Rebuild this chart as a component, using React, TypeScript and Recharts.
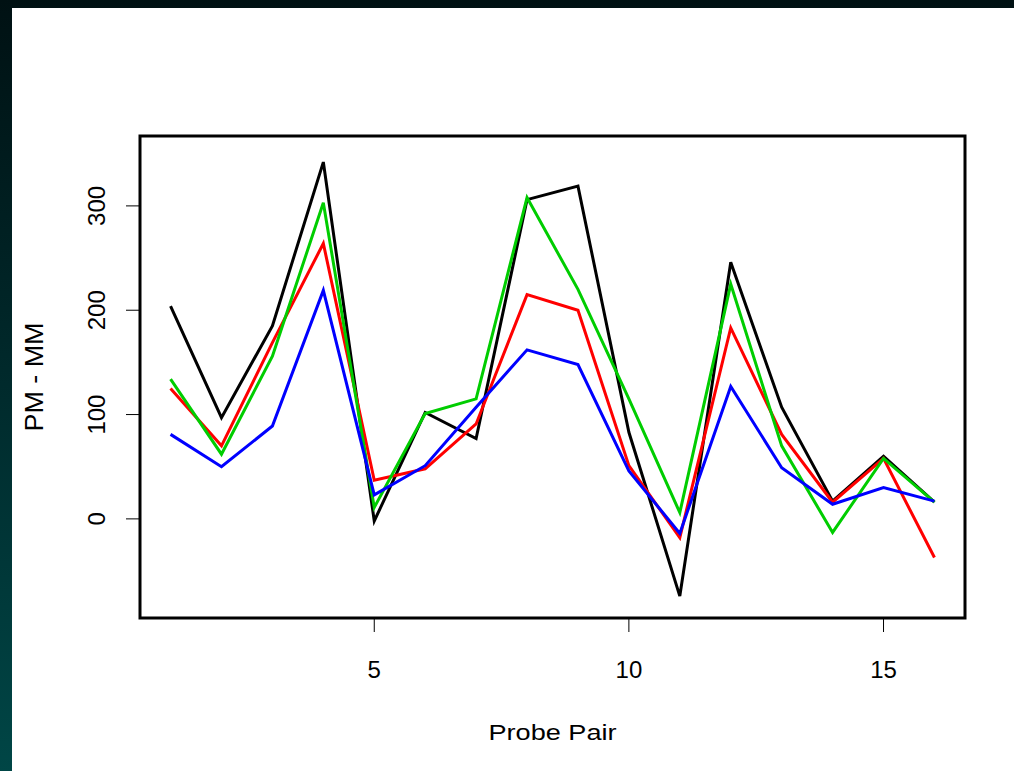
import React from "react";
import {
  LineChart,
  Line,
  XAxis,
  YAxis,
  ReferenceArea,
} from "recharts";

// probe pair index 1..16
const probes = [1, 2, 3, 4, 5, 6, 7, 8, 9, 10, 11, 12, 13, 14, 15, 16];

// PM - MM values, one array per line
const blackSeries = [204, 97, 185, 342, -2, 102, 77, 306, 319, 83, -74, 246, 107, 17, 60, 16];
const redSeries = [125, 70, 169, 264, 37, 48, 91, 215, 200, 51, -18, 183, 81, 16, 58, -37];
const greenSeries = [134, 62, 156, 303, 11, 101, 115, 308, 220, 115, 6, 225, 70, -13, 58, 16];
const blueSeries = [81, 50, 89, 219, 23, 51, 107, 162, 148, 46, -14, 127, 49, 14, 30, 17];

const xTicks = [5, 10, 15];
const yTicks = [0, 100, 200, 300];
const xDomain: [number, number] = [0.4, 16.6];
const yDomain: [number, number] = [-95, 367];

const data = probes.map((p, i) => ({
  probe: p,
  black: blackSeries[i],
  red: redSeries[i],
  green: greenSeries[i],
  blue: blueSeries[i],
}));

const FONT = "'Liberation Sans', Arial, Helvetica, sans-serif";

const YTick = (props: any) => {
  const { y, payload } = props;
  return (
    <text
      x={93}
      y={y}
      transform={`rotate(-90, 93, ${y})`}
      textAnchor="middle"
      fontSize={24}
      fontFamily={FONT}
      fill="#000"
    >
      {payload.value}
    </text>
  );
};

const XTitle = (props: any) => {
  const vb = props.viewBox;
  return (
    <text
      x={vb.x + vb.width / 2}
      y={732}
      textAnchor="middle"
      fontSize={22}
      fontFamily={FONT}
      textLength={128}
      lengthAdjust="spacingAndGlyphs"
      fill="#000"
    >
      Probe Pair
    </text>
  );
};

const YTitle = (props: any) => {
  const vb = props.viewBox;
  const cy = vb.y + vb.height / 2;
  return (
    <text
      x={31}
      y={cy}
      transform={`rotate(-90, 31, ${cy})`}
      textAnchor="middle"
      fontSize={25}
      fontFamily={FONT}
      textLength={109}
      lengthAdjust="spacingAndGlyphs"
      fill="#000"
    >
      PM - MM
    </text>
  );
};

export default function App() {
  return (
    <div
      style={{
        position: "absolute",
        left: 0,
        top: 0,
        width: 1014,
        height: 771,
        background: "linear-gradient(to bottom, #001113 0%, #002a2c 50%, #004646 100%)",
      }}
    >
      <div
        style={{
          position: "absolute",
          left: 12,
          top: 8,
          width: 1002,
          height: 763,
          background: "#fff",
        }}
      >
        <LineChart
          width={1002}
          height={763}
          data={data}
          margin={{ top: 128, right: 49, left: 0, bottom: 53 }}
          style={{ fontFamily: FONT }}
        >
          <XAxis
            dataKey="probe"
            type="number"
            domain={xDomain}
            ticks={xTicks}
            allowDataOverflow
            height={100}
            tickSize={14}
            tickMargin={29}
            tickLine={{ stroke: "#000", strokeWidth: 1 }}
            axisLine={false}
            tick={{ fontSize: 24, fill: "#000", fontFamily: FONT }}
            label={XTitle}
          />
          <YAxis
            type="number"
            domain={yDomain}
            ticks={yTicks}
            allowDataOverflow
            width={128}
            tickSize={14}
            tickLine={{ stroke: "#000", strokeWidth: 1 }}
            axisLine={false}
            tick={YTick}
            label={YTitle}
          />
          <Line dataKey="black" stroke="#000000" strokeWidth={3} dot={false} isAnimationActive={false} />
          <Line dataKey="red" stroke="#ff0000" strokeWidth={3} dot={false} isAnimationActive={false} />
          <Line dataKey="green" stroke="#00cd00" strokeWidth={3} dot={false} isAnimationActive={false} />
          <Line dataKey="blue" stroke="#0000ff" strokeWidth={3} dot={false} isAnimationActive={false} />
          <ReferenceArea
            x1={xDomain[0]}
            x2={xDomain[1]}
            y1={yDomain[0]}
            y2={yDomain[1]}
            fill="none"
            fillOpacity={0}
            stroke="#000"
            strokeWidth={3}
            ifOverflow="visible"
          />
        </LineChart>
      </div>
    </div>
  );
}
